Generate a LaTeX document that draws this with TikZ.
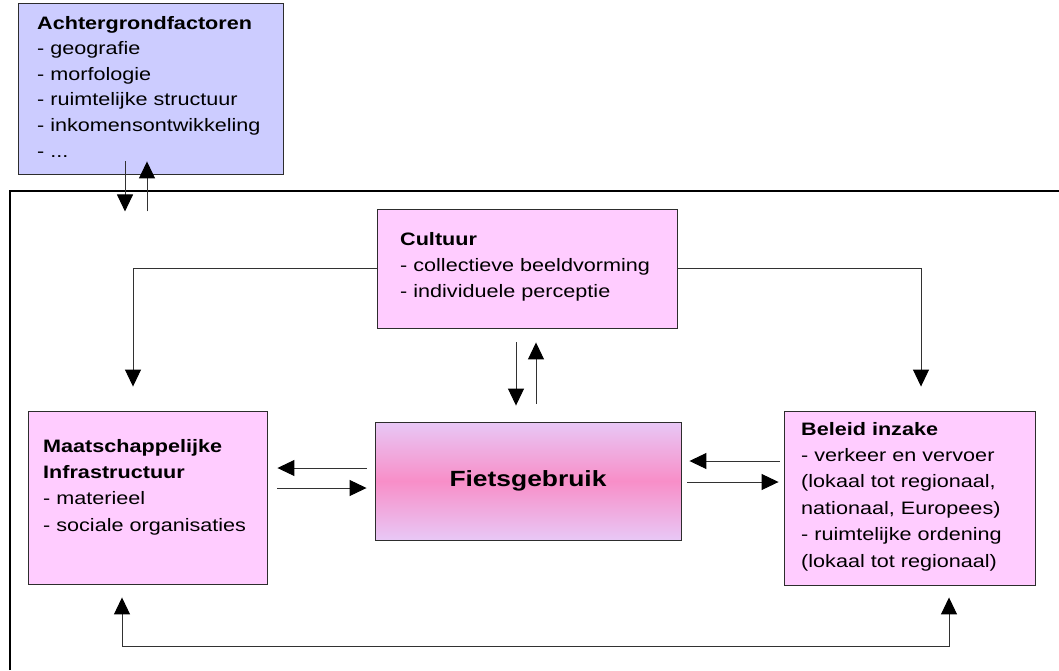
\documentclass[tikz,border=0pt]{standalone}
\usepackage{fontspec}
\setmainfont{Liberation Sans}[FakeStretch=1.2]
\usetikzlibrary{arrows.meta,calc}
\definecolor{pinkbox}{RGB}{255,204,255}
\definecolor{bluebox}{RGB}{204,204,255}
\definecolor{ftop}{RGB}{232,200,246}
\definecolor{fmid}{RGB}{248,142,200}
\definecolor{edge}{RGB}{45,45,45}
\definecolor{wire}{RGB}{50,50,50}
\begin{document}
\begin{tikzpicture}[x=1pt,y=-1pt,
  boxshape/.style={draw=edge, line width=0.9pt, inner sep=0pt, minimum width=#1},
  txt/.style={anchor=base west, inner sep=0pt, align=left, text width=#1,
    font=\fontsize{18}{26.4}\selectfont},
  tip/.style={},
  arr/.style={draw=wire, line width=1pt, -{Triangle[length=17pt,width=16pt,color=black]}},
  arrboth/.style={draw=wire, line width=1pt, {Triangle[length=17pt,width=16pt,color=black]}-{Triangle[length=17pt,width=16pt,color=black]}}
]
\useasboundingbox (0,0) rectangle (1059,670);

% frame
\draw[black, line width=1.2pt] (10,670) -- (10,191) -- (1059,191);

% boxes
\node[boxshape=265pt, minimum height=171pt, fill=bluebox] (ach) at (150.5,88.5) {};
\node[boxshape=300pt, minimum height=119pt, fill=pinkbox] (cult) at (527,268.5) {};
\node[boxshape=306pt, minimum height=118pt, top color=ftop, bottom color=ftop, middle color=fmid,
  font=\fontsize{22}{25}\selectfont\bfseries] (fiet) at (528,481) {Fietsgebruik};
\node[boxshape=239pt, minimum height=173pt, fill=pinkbox] (maat) at (147.5,497.5) {};
\node[boxshape=251pt, minimum height=174pt, fill=pinkbox] (bel) at (909.5,498) {};

% texts
\node[txt=260pt, font=\fontsize{18}{25.6}\selectfont] (achT) at (37,29)
  {\textbf{Achtergrondfactoren}\\- geografie\\- morfologie\\- ruimtelijke structuur\\- inkomensontwikkeling\\- ...};
\node[txt=290pt] (cultT) at (400,245)
  {\textbf{Cultuur}\\- collectieve beeldvorming\\- individuele perceptie};
\node[txt=230pt] (maatT) at (43,452)
  {\textbf{Maatschappelijke}\\\textbf{Infrastructuur}\\- materieel\\- sociale organisaties};
\node[txt=240pt] (belT) at (801,435)
  {\textbf{Beleid inzake}\\- verkeer en vervoer\\(lokaal tot regionaal,\\nationaal, Europees)\\- ruimtelijke ordening\\(lokaal tot regionaal)};

% connectors
\draw[arr] ($(ach.south)+(-25.5,-13)$) -- ($(ach.south)+(-25.5,37)$);
\draw[arr] ($(ach.south)+(-3.5,37)$) -- ($(ach.south)+(-3.5,-13)$);

\draw[arr] ($(cult.south)+(-11,14)$) -- ($(fiet.north)+(-12,-16)$);
\draw[arr] ($(fiet.north)+(8,-18)$) -- ($(cult.south)+(9,14)$);

\draw[arr] (cult.west) -| ($(maat.north)+(-14.5,-24)$);
\draw[arr] (cult.east) -| ($(bel.north)+(11.5,-24)$);

\draw[arr] ($(fiet.west)+(-8,-13)$) -- ($(maat.east)+(10,-29.5)$);
\draw[arr] ($(maat.east)+(10,-9.5)$) -- ($(fiet.west)+(-8,7)$);

\draw[arr] ($(bel.west)+(-4,-37)$) -- ($(fiet.east)+(8,-20)$);
\draw[arr] ($(fiet.east)+(6,1)$) -- ($(bel.west)+(-5,-16)$);

\draw[arrboth] ($(maat.south)+(-25.5,13)$) -- ($(maat.south)+(-25.5,62)$) -| ($(bel.south)+(39.5,12)$);
\end{tikzpicture}
\end{document}
